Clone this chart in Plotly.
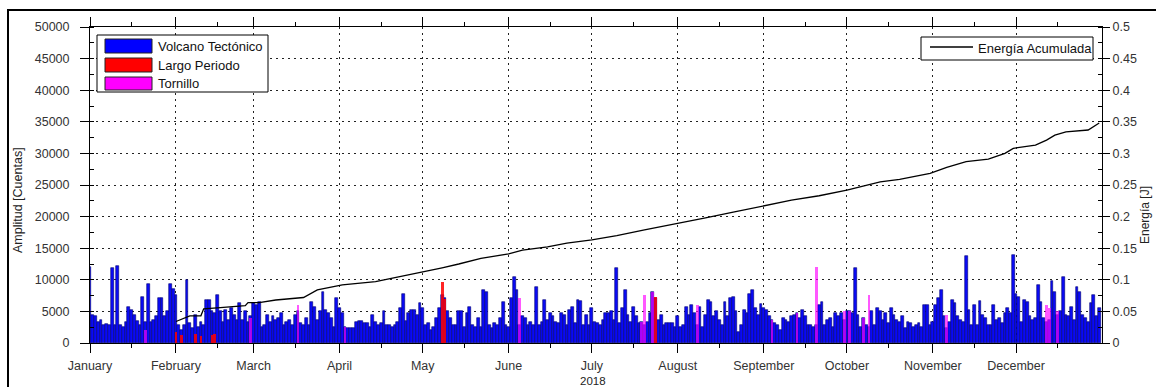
import plotly.graph_objects as go
import pandas as pd

# ---------------- data ----------------
year_start = "2018-01-01"
month_labels = ["January", "February", "March", "April", "May", "June", "July",
                "August", "September", "October", "November", "December"]
month_starts = ["2018-01-01", "2018-02-01", "2018-03-01", "2018-04-01", "2018-05-01",
                "2018-06-01", "2018-07-01", "2018-08-01", "2018-09-01", "2018-10-01",
                "2018-11-01", "2018-12-01"]

# Daily amplitude of volcano-tectonic events (counts), Jan 1 .. Dec 31
vt_amp = [
    12000, 4500, 4200, 3400, 3600, 2900, 3000, 2900, 11800, 2900, 12200, 2800, 2600, 3400, 5700, 5200,
    4400, 3500, 2900, 7300, 3300, 9300, 3400, 3600, 4200, 7100, 7100, 4200, 5000, 9300, 8600,
    7600, 2900, 2000, 2900, 10000, 3100, 2300, 4400, 2600, 3400, 2900, 6800, 6800, 5000, 4700,
    7600, 5000, 3400, 5200, 3600, 5500, 4400, 3600, 6300, 3600, 5000, 3400, 4200,
    6300, 6000, 6500, 2600, 2900, 4400, 3400, 4200, 3600, 3900, 4700, 2900, 3400, 3600, 2900,
    4400, 5000, 3100, 2900, 3900, 2900, 6500, 5700, 3600, 5000, 8100, 5200, 4700, 3900, 2600,
    7100,
    5500, 4700, 2600, 2300, 2300, 2300, 3400, 3500, 3500, 3100, 3100, 2600, 4500, 3400, 2900,
    3100, 5000, 2900, 2900, 2600, 2900, 3400, 5500, 7700, 3500, 4700, 5200, 5200, 4400, 6300,
    5500,
    2900, 3100, 2000, 2600, 3900, 5500, 7600, 7100, 5000, 3900, 2900, 2900, 5000, 5000, 2600,
    4700, 5700, 2900, 2600, 3900, 2600, 8400, 8100, 2900, 2300, 3100, 2900, 3900, 6500, 2900,
    2600,
    7100, 10500, 8400, 2900, 4200, 3900, 2900, 3400, 2900, 8900, 2900, 3400, 6800, 3600, 4700,
    4200, 3400, 3100, 4700, 4400, 2900, 5200, 5700, 3100, 6800, 6700, 2900, 4400, 2900,
    5500, 3400, 3100, 2900, 3600, 4700, 4700, 5000, 3600, 11800, 3100, 5500, 8400, 4400, 3400,
    5700, 4200, 3100, 3400, 2900, 3400, 4700, 8100, 7100, 3600, 4400, 2900, 3100, 3100, 3100,
    2600,
    4200, 2600, 2900, 5700, 4400, 6000, 4700, 2900, 5700, 2600, 4400, 6800, 6500, 4200, 5000,
    3600, 2900, 6500, 4200, 7200, 7300, 5000, 1800, 2900, 5200, 4700, 7700, 8400, 5500, 4400,
    6100,
    5600, 5200, 4200, 3600, 3100, 2900, 2000, 3900, 3600, 3400, 4200, 4400, 4700, 3900, 5200,
    4200, 2900, 2900, 2600, 2900, 6000, 6500, 2900, 3600, 3900, 2600, 4700, 4200, 4700, 3600,
    5000, 5000, 4700, 11800, 4400, 2600, 3900, 2900, 2600, 5000, 2900, 5500, 5000, 3600, 4700,
    3100, 5500, 4400, 3600, 3400, 4200, 2300, 3400, 3100, 2600, 2900, 3100, 2600,
    6000, 6000, 2900, 3400, 6000, 7100, 8400, 4200, 2300, 3400, 6800, 6300, 4200, 3600, 3400,
    13700, 5200, 2900, 6000, 2900, 6700, 4400, 4000, 2900, 2900, 6000, 3600, 3900, 3100, 4700,
    5500,
    4700, 13900, 7800, 7300, 3400, 6800, 6500, 4200, 3600, 3900, 9200, 6500, 3900, 3400, 3600,
    9800, 8100, 4400, 5000, 10500, 4400, 4200, 5700, 3600, 8900, 8100, 4400, 3900, 3400, 6300,
    7600, 4200, 5500,
]

# Long-period events: day-of-year index and amplitude
lp_days = [31, 33, 38, 40, 44, 45, 127, 128, 204]
lp_amp = [1800, 1200, 1500, 1100, 1300, 1500, 9700, 7000, 7300]

# Tornillo events: day-of-year index and amplitude
tr_days = [20, 58, 75, 92, 155, 199, 200, 203, 219, 246, 255, 262, 272, 274, 279, 281, 309, 345, 346, 349]
tr_amp = [2000, 3900, 6000, 2600, 7100, 3400, 7600, 8100, 6000, 3600, 4700, 12000, 5000, 5000, 4000,
          7600, 4400, 6000, 5500, 5000]

# Accumulated energy (read at selected days)
en_days = [31, 36, 40, 41, 47, 56, 57, 61, 67, 77, 82, 86, 91, 103, 112, 121, 127, 133,
           141, 151, 156, 165, 172, 181, 190, 200, 212, 222, 232, 243, 253, 263, 273, 285, 292, 303,
           309, 316, 324, 330, 333, 341, 345, 348, 352, 360, 362, 364]
en_val = [0.034, 0.043, 0.043, 0.054, 0.056, 0.059, 0.064, 0.064, 0.068, 0.072,
          0.084, 0.088, 0.092, 0.097, 0.105, 0.114, 0.119, 0.125, 0.134, 0.141, 0.147, 0.152, 0.158,
          0.163, 0.170, 0.179, 0.190, 0.198, 0.207, 0.217, 0.226, 0.233, 0.242, 0.255, 0.259, 0.2685,
          0.278, 0.287, 0.291, 0.300, 0.308, 0.313, 0.321, 0.329, 0.334, 0.337, 0.342, 0.348]

# ---------------- figure ----------------
days = pd.date_range(year_start, periods=len(vt_amp), freq="D")
DAY_MS = 86400000

fig = go.Figure()
fig.add_trace(go.Bar(x=days, y=vt_amp, width=DAY_MS, name="Volcano Tectónico",
                     marker=dict(color="#0a0af5", line=dict(color="#000070", width=0.6)),
                     showlegend=False))
fig.add_trace(go.Bar(x=days[lp_days], y=lp_amp, width=DAY_MS, name="Largo Periodo",
                     marker=dict(color="#ff0000", line=dict(width=0)), opacity=0.85,
                     showlegend=False))
fig.add_trace(go.Bar(x=days[tr_days], y=tr_amp, width=DAY_MS, name="Tornillo",
                     marker=dict(color="#ff00ff", line=dict(width=0)), opacity=0.65,
                     showlegend=False))
fig.add_trace(go.Scatter(x=days[en_days], y=en_val, mode="lines", name="Energía Acumulada",
                         line=dict(color="black", width=1.3), yaxis="y2", showlegend=False))

X0, X1, Y0, Y1 = 90, 1102, 27, 343


def px(x):
    return (x - X0) / (X1 - X0)


def py(y):
    return (Y1 - y) / (Y1 - Y0)


font_family = "Liberation Sans, Arial, sans-serif"
tick_font = dict(family=font_family, size=12.5, color="#333")
grid_dash = "2px,4px"

shapes = [
    # outer frame
    dict(type="rect", xref="paper", yref="paper", x0=px(8), x1=px(1170), y0=py(10), y1=py(400),
         line=dict(color="black", width=2), fillcolor="rgba(0,0,0,0)", layer="above"),
    # legend 1 box
    dict(type="rect", xref="paper", yref="paper", x0=px(97), x1=px(268), y0=py(35), y1=py(92),
         line=dict(color="black", width=1), fillcolor="white", layer="above"),
    dict(type="rect", xref="paper", yref="paper", x0=px(105), x1=px(152), y0=py(39), y1=py(53),
         line=dict(color="#222", width=1), fillcolor="#0000ff", layer="above"),
    dict(type="rect", xref="paper", yref="paper", x0=px(105), x1=px(152), y0=py(58), y1=py(72),
         line=dict(color="#222", width=1), fillcolor="#ff0000", layer="above"),
    dict(type="rect", xref="paper", yref="paper", x0=px(105), x1=px(152), y0=py(77), y1=py(90),
         line=dict(color="#222", width=1), fillcolor="#ff00ff", layer="above"),
    # legend 2 box
    dict(type="rect", xref="paper", yref="paper", x0=px(921), x1=px(1093), y0=py(37), y1=py(60),
         line=dict(color="black", width=1), fillcolor="white", layer="above"),
    dict(type="line", xref="paper", yref="paper", x0=px(930), x1=px(973), y0=py(47), y1=py(47),
         line=dict(color="black", width=1.3), layer="above"),
]

legend_font = dict(family=font_family, size=13, color="#111")
annotations = [
    dict(text="Volcano Tectónico", xref="paper", yref="paper", x=px(156), y=py(46),
         xanchor="left", yanchor="middle", showarrow=False, font=legend_font),
    dict(text="Largo Periodo", xref="paper", yref="paper", x=px(156), y=py(65),
         xanchor="left", yanchor="middle", showarrow=False, font=legend_font),
    dict(text="Tornillo", xref="paper", yref="paper", x=px(156), y=py(84),
         xanchor="left", yanchor="middle", showarrow=False, font=legend_font),
    dict(text="Energía Acumulada", xref="paper", yref="paper", x=px(976), y=py(48),
         xanchor="left", yanchor="middle", showarrow=False, font=legend_font),
    dict(text="Amplitud [Cuentas]", xref="paper", yref="paper", x=px(18), y=py(200),
         xanchor="center", yanchor="middle", textangle=-90, showarrow=False,
         font=dict(family=font_family, size=12.5, color="#222")),
    dict(text="Energía [J]", xref="paper", yref="paper", x=px(1145), y=py(215),
         xanchor="center", yanchor="middle", textangle=-90, showarrow=False,
         font=dict(family=font_family, size=12, color="#222")),
    dict(text="2018", xref="paper", yref="paper", x=px(593), y=py(381),
         xanchor="center", yanchor="middle", showarrow=False,
         font=dict(family=font_family, size=11.5, color="#222")),
]

fig.update_layout(
    width=1156, height=387,
    margin=dict(l=X0, r=1156 - X1, t=Y0, b=387 - Y1),
    paper_bgcolor="white", plot_bgcolor="white",
    barmode="overlay", bargap=0,
    showlegend=False,
    shapes=shapes, annotations=annotations,
    xaxis=dict(
        type="date", range=["2018-01-01", "2019-01-01"],
        tickmode="array", tickvals=month_starts, ticktext=month_labels,
        tickfont=tick_font, ticks="outside", ticklen=9, tickcolor="black",
        ticklabelstandoff=2,
        showline=True, linecolor="black", linewidth=1, mirror="ticks",
        showgrid=True, gridcolor="#222", griddash=grid_dash, gridwidth=1,
        minor=dict(dtick="M1", tick0="2018-01-16", ticks="outside", ticklen=4,
                   tickcolor="black", showgrid=False),
        zeroline=False,
    ),
    yaxis=dict(
        range=[0, 50000], dtick=5000, tick0=0, tickformat="d",
        tickfont=tick_font, ticks="outside", ticklen=9, tickcolor="black",
        ticklabelstandoff=8,
        showline=True, linecolor="black", linewidth=1,
        showgrid=True, gridcolor="#222", griddash=grid_dash, gridwidth=1,
        minor=dict(dtick=2500, ticks="inside", ticklen=4, tickcolor="black", showgrid=False),
        zeroline=False,
    ),
    yaxis2=dict(
        overlaying="y", side="right", range=[0, 0.5], dtick=0.05, tick0=0,
        tickfont=tick_font, ticks="outside", ticklen=7, tickcolor="black",
        showline=True, linecolor="black", linewidth=1, showgrid=False,
        minor=dict(dtick=0.025, ticks="inside", ticklen=4, tickcolor="black"),
        zeroline=False,
    ),
)

fig.write_html("out.html")
